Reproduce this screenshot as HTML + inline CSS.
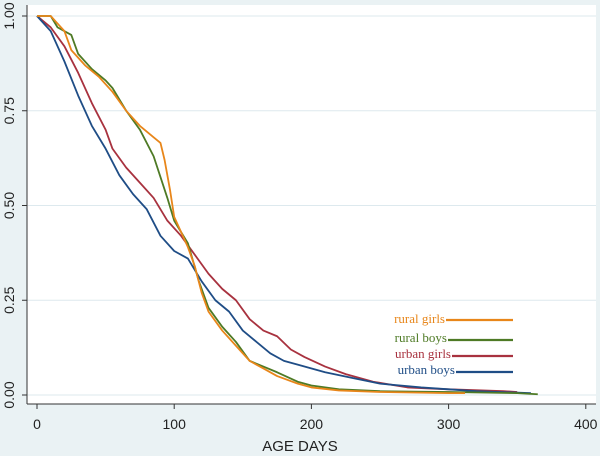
<!DOCTYPE html>
<html><head><meta charset="utf-8"><style>
html,body{margin:0;padding:0;background:#eaf2f4;}
svg{display:block;font-family:"Liberation Sans",sans-serif;}
</style></head><body>
<svg width="600" height="456" viewBox="0 0 600 456">
<rect x="0" y="0" width="600" height="456" fill="#eaf2f4"/>
<rect x="27" y="5" width="569" height="399" fill="#ffffff"/>
<g id="grid"></g>
<g id="series"></g>
<g id="axes"></g>
<text x="300" y="451" font-size="15" text-anchor="middle" fill="#222">AGE DAYS</text>
<g font-family="Liberation Serif, serif" font-size="13">
<g><text x="445" y="323" text-anchor="end" fill="#e8861a">rural girls</text><line x1="446" y1="320" x2="513" y2="320" stroke="#e8861a" stroke-width="2.2"/></g>
<g><text x="447" y="342" text-anchor="end" fill="#4e7a25">rural boys</text><line x1="448" y1="340" x2="513" y2="340" stroke="#4e7a25" stroke-width="2.2"/></g>
<g><text x="451" y="358" text-anchor="end" fill="#a8323f">urban girls</text><line x1="452" y1="356" x2="513" y2="356" stroke="#a8323f" stroke-width="2.2"/></g>
<g><text x="455" y="374" text-anchor="end" fill="#1f4d86">urban boys</text><line x1="456" y1="372" x2="513" y2="372" stroke="#1f4d86" stroke-width="2.2"/></g>
</g>
</svg>
<script>
const xTicks=[0,100,200,300,400];
const yTicks=[0,0.25,0.5,0.75,1];
const yTickLabels=["0.00","0.25","0.50","0.75","1.00"];
const ruralGirlsT=[0,10,15,20,25,35,45,55,65,75,85,90,93,97,100,105,110,115,120,125,135,145,155,165,175,190,200,220,250,300,312];
const ruralGirlsS=[1,1,.98,.96,.91,.87,.84,.80,.75,.71,.68,.665,.62,.54,.47,.43,.39,.34,.27,.22,.17,.13,.09,.07,.05,.03,.02,.012,.008,.005,.005];
const ruralBoysT=[0,10,15,25,30,40,50,55,65,75,85,95,100,110,118,125,135,145,155,165,175,190,200,220,250,300,350,365];
const ruralBoysS=[1,1,.97,.95,.90,.86,.83,.81,.75,.70,.63,.52,.46,.40,.30,.23,.18,.14,.09,.075,.06,.035,.025,.015,.01,.008,.005,.002];
const urbanGirlsT=[0,10,20,30,40,50,55,65,75,85,95,105,115,125,135,145,155,165,175,185,195,210,225,245,270,300,340,350];
const urbanGirlsS=[1,.97,.92,.85,.77,.70,.65,.60,.56,.52,.46,.42,.37,.32,.28,.25,.20,.17,.155,.12,.10,.075,.055,.035,.02,.015,.01,.008];
const urbanBoysT=[0,10,20,30,40,50,60,70,80,90,100,110,120,130,140,150,160,170,180,190,210,230,250,280,320,360];
const urbanBoysS=[1,.96,.88,.79,.71,.65,.58,.53,.49,.42,.38,.36,.30,.25,.22,.17,.14,.11,.09,.08,.06,.045,.03,.02,.01,.005];
const NS="http://www.w3.org/2000/svg";
const xS=t=>37+t*1.372;
const yS=s=>395-s*379;
function mk(tag,attrs,parent){const e=document.createElementNS(NS,tag);for(const k in attrs)e.setAttribute(k,attrs[k]);parent.appendChild(e);return e;}
const grid=document.getElementById('grid'),axes=document.getElementById('axes'),ser=document.getElementById('series');
yTicks.forEach((v,i)=>{
 const g=mk('line',{x1:27,x2:596,y1:yS(v),y2:yS(v),stroke:'#dde9ee','stroke-width':1},grid);
 
 
 const t=mk('line',{x1:22,x2:27,y1:yS(v),y2:yS(v),stroke:'#333'},axes);
 
 
 const l=mk('text',{x:0,y:0,'font-size':14,'text-anchor':'middle',fill:'#222',transform:`translate(14,${yS(v)}) rotate(-90)`},axes);
 l.textContent=yTickLabels[i];
 
 
});
xTicks.forEach(v=>{
 const t=mk('line',{x1:xS(v),x2:xS(v),y1:404,y2:409,stroke:'#333'},axes);
 
 
 const l=mk('text',{x:xS(v),y:429,'font-size':14,'text-anchor':'middle',fill:'#222'},axes);
 l.textContent=String(v);
 
 
});
const ya=mk('line',{x1:27,x2:27,y1:5,y2:404,stroke:'#333'},axes);


const xa=mk('line',{x1:27,x2:596,y1:404,y2:404,stroke:'#333'},axes);


function curve(T,S,color,name){
 let d=`M${xS(T[0])},${yS(S[0])}`;
 for(let i=1;i<T.length;i++){d+=` L${xS(T[i])},${yS(S[i])}`;}
 const p=mk('path',{d:d,fill:'none',stroke:color,'stroke-width':1.8,'stroke-linejoin':'round'},ser);
 
 
}
curve(urbanGirlsT,urbanGirlsS,'#a8323f','line-urban-girls');
curve(urbanBoysT,urbanBoysS,'#1f4d86','line-urban-boys');
curve(ruralBoysT,ruralBoysS,'#4e7a25','line-rural-boys');
curve(ruralGirlsT,ruralGirlsS,'#e8861a','line-rural-girls');
</script>
</body></html>
